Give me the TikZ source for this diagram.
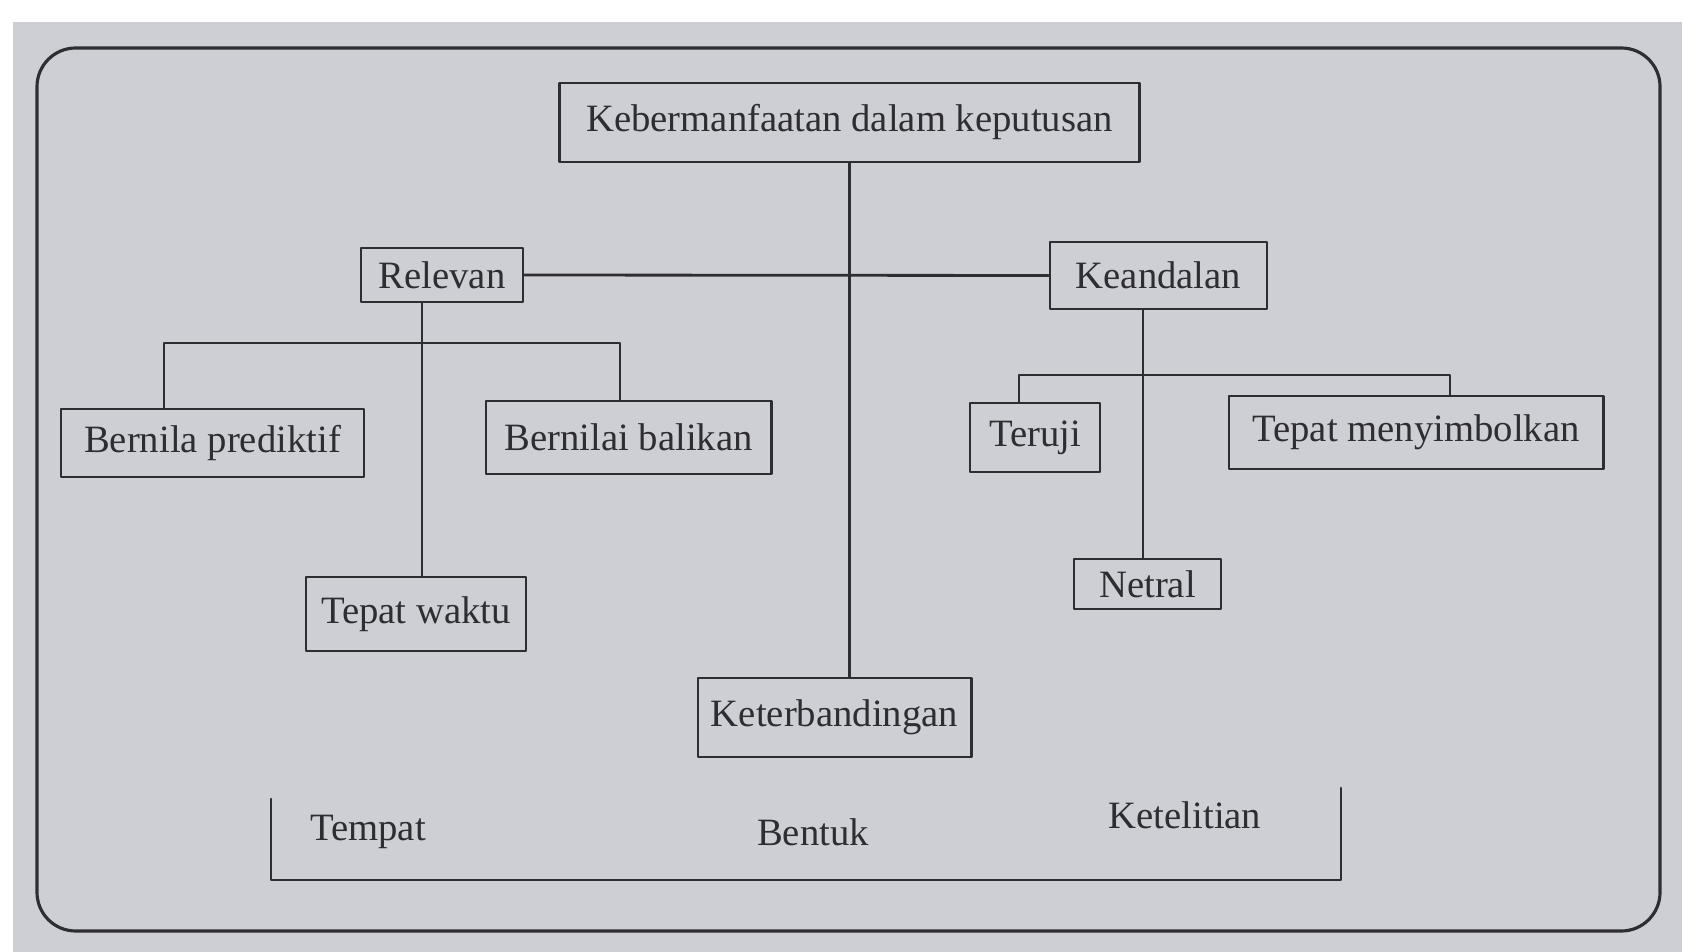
\documentclass[tikz,border=0pt]{standalone}
\usepackage{fontspec}
\setmainfont{Liberation Serif}
\definecolor{scan}{RGB}{206,207,212}
\definecolor{ink}{RGB}{45,45,50}
\begin{document}
\begin{tikzpicture}[x=0.01cm, y=-0.01cm, font=\fontsize{11}{13}\selectfont, line join=round, line cap=round,
 box/.style={draw=ink, line width=0.8pt, inner sep=0pt, text=ink},
 link/.style={draw=ink, line width=0.8pt}]
 \useasboundingbox (0,0) rectangle (1682,952);
 \fill[scan] (13,22) rectangle (1682,952);
 \draw[ink, line width=0.9pt, rounded corners=11] (37,48) rectangle (1660,931);
 % boxes
 \node[box, minimum width=5.79cm, minimum height=0.79cm] (top) at (849.5,122.5) {Kebermanfaatan dalam keputusan};
 \node[box, minimum width=1.62cm, minimum height=0.54cm] (rel) at (442,275) {Relevan};
 \node[box, minimum width=2.17cm, minimum height=0.67cm] (kea) at (1158.5,275.5) {Keandalan};
 \node[box, minimum width=3.03cm, minimum height=0.68cm] (pred) at (212.5,443) {Bernila prediktif};
 \node[box, minimum width=2.85cm, minimum height=0.73cm] (bal) at (628.5,437.5) {Bernilai balikan};
 \node[box, minimum width=2.20cm, minimum height=0.74cm] (wak) at (416,614) {Tepat waktu};
 \node[box, minimum width=1.30cm, minimum height=0.69cm] (ter) at (1035,437.5) {Teruji};
 \node[box, minimum width=3.74cm, minimum height=0.73cm] (sim) at (1416,432.5) {Tepat menyimbolkan};
 \node[box, minimum width=1.47cm, minimum height=0.50cm] (net) at (1147.5,584) {Netral};
 \node[box, minimum width=2.73cm, minimum height=0.79cm] (kbd) at (834.5,717.5) {Keterbandingan};
 % connectors
 \draw[link] (top.south) -- (top.south |- kbd.north);
 \draw[link] (rel.east) -- (kea.west);
 \coordinate (rv) at (422,0);
 \draw[link] (rel.south -| rv) -- (wak.north -| rv);
 \coordinate (rb) at (164,343);
 \coordinate (rb2) at (620,343);
 \draw[link] (rb |- pred.north) -- (rb) -- (rb2) -- (rb2 |- bal.north);
 \draw[link] (net.north -| 1143,0) -- (kea.south -| 1143,0);
 \coordinate (kb) at (1019,375);
 \coordinate (kb2) at (1450,375);
 \draw[link] (kb |- ter.north) -- (kb) -- (kb2) -- (kb2 |- sim.north);
 % bottom group
 \coordinate (bl) at (271,799);
 \coordinate (br) at (1341,788);
 \draw[link] (bl) -- (bl |- 0,880) -- (br |- 0,880) -- (br);
 \path[text=ink]
 (368,832) node (tem) {Tempat}
 (813,832) node (ben) {Bentuk}
 (1185,815) node (tel) {Ketelitian};
\end{tikzpicture}
\end{document}
